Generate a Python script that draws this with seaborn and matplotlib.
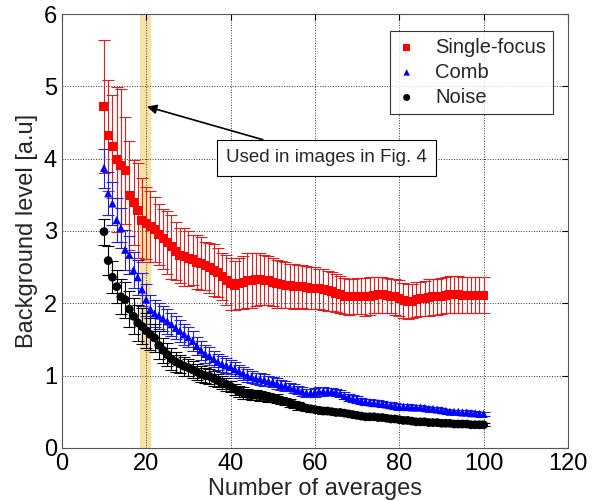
import numpy as np
import pandas as pd
import matplotlib
matplotlib.use("Agg")
import matplotlib.pyplot as plt
import seaborn as sns

averages = list(range(10, 101))

single_focus = [
    4.72, 4.32, 4.17, 3.99, 3.91, 3.84, 3.49, 3.39, 3.28, 3.15,
    3.11, 3.06, 3.02, 2.95, 2.89, 2.84, 2.78, 2.72, 2.66, 2.64,
    2.62, 2.60, 2.57, 2.55, 2.52, 2.49, 2.46, 2.42, 2.37, 2.32,
    2.27, 2.25, 2.27, 2.29, 2.31, 2.32, 2.33, 2.33, 2.32, 2.31,
    2.29, 2.27, 2.26, 2.25, 2.24, 2.23, 2.23, 2.23, 2.22, 2.21,
    2.21, 2.20, 2.19, 2.17, 2.16, 2.14, 2.12, 2.10, 2.09, 2.09,
    2.10, 2.10, 2.09, 2.10, 2.11, 2.12, 2.12, 2.11, 2.10, 2.09,
    2.07, 2.04, 2.02, 2.03, 2.05, 2.06, 2.07, 2.08, 2.09, 2.09,
    2.10, 2.11, 2.12, 2.12, 2.12, 2.11, 2.11, 2.11, 2.11, 2.11,
    2.11,
]
single_focus_err = [
    0.92, 0.77, 0.71, 1.00, 1.06, 0.74, 0.75, 0.59, 0.66, 0.58,
    0.50, 0.49, 0.45, 0.42, 0.41, 0.44, 0.44, 0.40, 0.38, 0.40,
    0.38, 0.35, 0.37, 0.36, 0.33, 0.35, 0.36, 0.34, 0.33, 0.35,
    0.36, 0.34, 0.35, 0.37, 0.38, 0.38, 0.37, 0.36, 0.35, 0.34,
    0.33, 0.33, 0.32, 0.32, 0.31, 0.31, 0.30, 0.30, 0.30, 0.29,
    0.29, 0.28, 0.28, 0.27, 0.27, 0.26, 0.26, 0.25, 0.25, 0.24,
    0.25, 0.25, 0.26, 0.26, 0.25, 0.25, 0.25, 0.24, 0.24, 0.25,
    0.25, 0.24, 0.24, 0.24, 0.24, 0.24, 0.24, 0.25, 0.25, 0.25,
    0.25, 0.25, 0.26, 0.26, 0.26, 0.25, 0.25, 0.25, 0.25, 0.25,
    0.25,
]

comb = [
    3.87, 3.52, 3.38, 3.15, 3.04, 2.74, 2.67, 2.46, 2.36, 2.19,
    2.05, 1.92, 1.86, 1.83, 1.79, 1.75, 1.71, 1.66, 1.62, 1.57,
    1.53, 1.48, 1.41, 1.35, 1.30, 1.27, 1.23, 1.19, 1.16, 1.14,
    1.12, 1.09, 1.06, 1.03, 1.00, 0.98, 0.96, 0.95, 0.94, 0.92,
    0.91, 0.89, 0.87, 0.86, 0.84, 0.82, 0.80, 0.78, 0.76, 0.76,
    0.77, 0.78, 0.78, 0.78, 0.78, 0.77, 0.75, 0.72, 0.70, 0.68,
    0.67, 0.65, 0.64, 0.63, 0.62, 0.62, 0.61, 0.60, 0.59, 0.58,
    0.57, 0.57, 0.57, 0.56, 0.56, 0.56, 0.55, 0.54, 0.54, 0.53,
    0.52, 0.51, 0.50, 0.50, 0.50, 0.49, 0.49, 0.48, 0.48, 0.47,
    0.47,
]
comb_err = [
    0.27, 0.30, 0.30, 0.30, 0.28, 0.28, 0.26, 0.25, 0.24, 0.23,
    0.22, 0.20, 0.19, 0.18, 0.17, 0.17, 0.16, 0.16, 0.15, 0.15,
    0.14, 0.14, 0.13, 0.13, 0.12, 0.12, 0.11, 0.11, 0.11, 0.10,
    0.10, 0.10, 0.09, 0.09, 0.09, 0.08, 0.08, 0.08, 0.08, 0.07,
    0.07, 0.07, 0.07, 0.07, 0.06, 0.06, 0.06, 0.06, 0.06, 0.06,
    0.06, 0.06, 0.06, 0.05, 0.05, 0.05, 0.05, 0.05, 0.05, 0.05,
    0.05, 0.04, 0.04, 0.04, 0.04, 0.04, 0.04, 0.04, 0.04, 0.04,
    0.04, 0.04, 0.04, 0.03, 0.03, 0.03, 0.03, 0.03, 0.03, 0.03,
    0.03, 0.03, 0.03, 0.03, 0.03, 0.03, 0.03, 0.03, 0.03, 0.03,
    0.03,
]

noise = [
    2.99, 2.59, 2.36, 2.23, 2.09, 2.05, 1.92, 1.82, 1.73, 1.68,
    1.62, 1.57, 1.52, 1.42, 1.35, 1.29, 1.23, 1.19, 1.16, 1.13,
    1.11, 1.08, 1.05, 1.02, 1.00, 0.99, 0.96, 0.93, 0.90, 0.88,
    0.85, 0.81, 0.78, 0.76, 0.74, 0.73, 0.73, 0.72, 0.71, 0.70,
    0.69, 0.68, 0.66, 0.64, 0.62, 0.60, 0.58, 0.57, 0.55, 0.54,
    0.53, 0.52, 0.51, 0.51, 0.50, 0.49, 0.49, 0.48, 0.47, 0.46,
    0.45, 0.44, 0.43, 0.43, 0.43, 0.42, 0.42, 0.41, 0.40, 0.40,
    0.39, 0.38, 0.38, 0.37, 0.36, 0.36, 0.36, 0.35, 0.35, 0.35,
    0.34, 0.34, 0.34, 0.33, 0.33, 0.33, 0.33, 0.32, 0.32, 0.32,
    0.32,
]
noise_err = [
    0.18, 0.20, 0.22, 0.23, 0.24, 0.25, 0.25, 0.25, 0.25, 0.25,
    0.24, 0.22, 0.20, 0.19, 0.17, 0.16, 0.15, 0.14, 0.13, 0.13,
    0.12, 0.12, 0.11, 0.11, 0.10, 0.10, 0.10, 0.09, 0.09, 0.09,
    0.08, 0.08, 0.08, 0.08, 0.07, 0.07, 0.07, 0.07, 0.06, 0.06,
    0.06, 0.06, 0.05, 0.05, 0.05, 0.05, 0.05, 0.04, 0.04, 0.04,
    0.04, 0.04, 0.04, 0.04, 0.03, 0.03, 0.03, 0.03, 0.03, 0.03,
    0.03, 0.03, 0.03, 0.03, 0.03, 0.02, 0.02, 0.02, 0.02, 0.02,
    0.02, 0.02, 0.02, 0.02, 0.02, 0.02, 0.02, 0.02, 0.02, 0.02,
    0.02, 0.02, 0.02, 0.02, 0.02, 0.02, 0.02, 0.02, 0.02, 0.02,
    0.02,
]

sns.set_style("white")
plt.rcParams["font.family"] = ["Liberation Sans", "DejaVu Sans"]

series = [
    ("Single-focus", single_focus, single_focus_err, "#ff0000", "#e02020", "s", 42),
    ("Comb", comb, comb_err, "#0000ff", "#2020e0", "^", 34),
    ("Noise", noise, noise_err, "#000000", "#000000", "o", 40),
]

fig = plt.figure(figsize=(6.12, 5.01), dpi=100)
ax = fig.add_axes([0.101, 0.106, 0.827, 0.866])

ax.axvspan(18.6, 21.2, color="#f3cf6a", alpha=0.6, lw=0, zorder=0)

for name, vals, errs, mcol, ecol, mk, sz in series:
    ax.errorbar(averages, vals, yerr=errs, fmt="none", ecolor=ecol,
                elinewidth=0.8, capsize=4, capthick=0.8, zorder=2)
    df = pd.DataFrame({"x": averages, "y": vals})
    sns.scatterplot(data=df, x="x", y="y", marker=mk, color=mcol, s=sz,
                    edgecolor="none", linewidth=0, label=name, ax=ax, zorder=3)

ax.set_xlim(0, 120)
ax.set_ylim(0, 6)
ax.set_xticks(range(0, 121, 20))
ax.set_yticks(range(0, 7))
ax.grid(True, color="#333333", linestyle=":", linewidth=0.7)
ax.set_axisbelow(True)
ax.tick_params(direction="in", length=4, labelsize=17, colors="black",
               top=True, right=True)
for s in ax.spines.values():
    s.set_color("#555555")
    s.set_linewidth(0.8)

ax.set_xlabel("Number of averages", fontsize=17, labelpad=2)
ax.set_ylabel("Background level [a.u]", fontsize=17, labelpad=4)

leg = ax.legend(loc="upper right", fontsize=14.5, frameon=True, fancybox=False,
                edgecolor="black", markerscale=0.8, handlelength=1.0,
                handletextpad=0.9, borderpad=0.35, labelspacing=0.3,
                bbox_to_anchor=(0.99, 0.985))
leg.get_frame().set_linewidth(0.8)

ax.annotate("Used in images in Fig. 4", xy=(20.2, 4.72), xytext=(62.8, 4.01),
            fontsize=13.5, ha="center", va="center",
            bbox=dict(boxstyle="square,pad=0.5", fc="white", ec="black", lw=0.8),
            arrowprops=dict(arrowstyle="-|>", color="black", lw=1.2,
                            mutation_scale=14, shrinkA=0, shrinkB=0),
            zorder=5)

fig.savefig("out.png", dpi=100)
